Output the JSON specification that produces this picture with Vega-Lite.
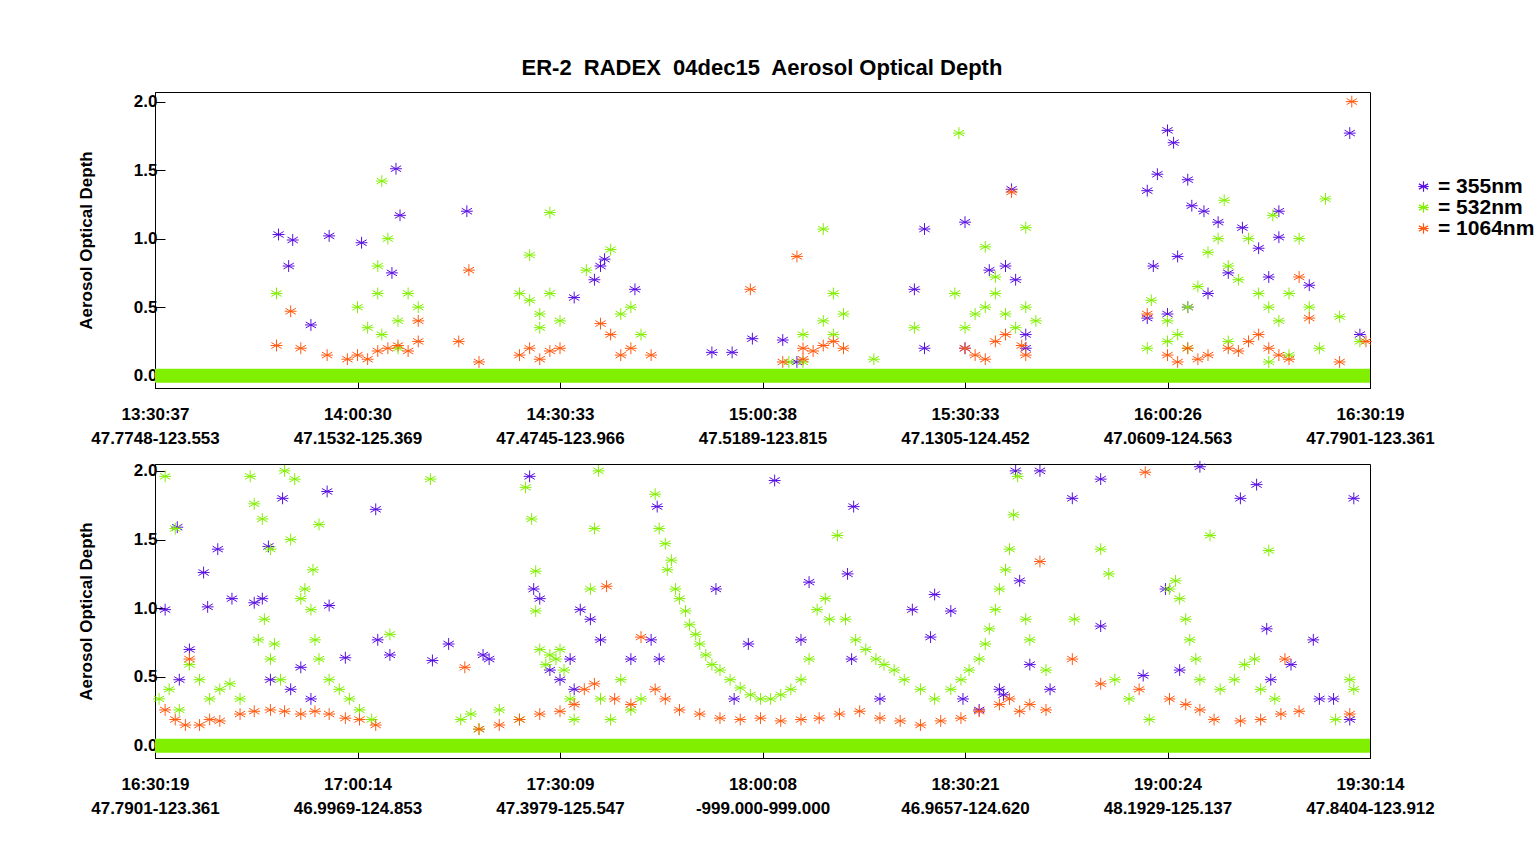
{
  "$schema": "https://vega.github.io/schema/vega-lite/v6.json",
  "autosize": {"type": "pad"},
  "padding": {"left": 76, "top": 56, "right": 0, "bottom": 0},
  "background": "white",
  "title": {"text": "ER-2\u00a0 RADEX\u00a0 04dec15\u00a0 Aerosol Optical Depth", "anchor": "middle", "dx": -44, "fontSize": 22, "font": "Liberation Sans", "fontWeight": "bold", "offset": 12, "color": "black"},
  "config": {
    "view": {"stroke": "black", "strokeWidth": 1},
    "axis": {"labelFont": "Liberation Sans", "labelFontWeight": "bold", "labelFontSize": 17, "labelColor": "black", "domainColor": "black", "tickColor": "black", "grid": false, "titleFont": "Liberation Sans", "titleFontWeight": "bold", "titleFontSize": 17, "titleColor": "black"},
    "concat": {"spacing": 76},
    "legend": {"orient": "none", "legendX": 1258, "legendY": 84, "labelFont": "Liberation Sans", "labelFontWeight": "bold", "labelFontSize": 21, "labelColor": "black", "rowPadding": -4, "symbolSize": 110, "symbolStrokeWidth": 1.2, "title": null}
  },
  "bounds": "flush",
  "datasets": {
    "pts": [
      {"p":1,"s":"355nm","x":0.61,"y":1.03},{"p":1,"s":"355nm","x":0.66,"y":0.8},{"p":1,"s":"355nm","x":0.68,"y":0.99},{"p":1,"s":"355nm","x":0.77,"y":0.37},{"p":1,"s":"355nm","x":0.86,"y":1.02},{"p":1,"s":"355nm","x":1.02,"y":0.97},{"p":1,"s":"355nm","x":1.19,"y":1.51},{"p":1,"s":"355nm","x":1.21,"y":1.17},{"p":1,"s":"355nm","x":1.17,"y":0.75},{"p":1,"s":"355nm","x":1.54,"y":1.2},{"p":1,"s":"355nm","x":2.07,"y":0.57},{"p":1,"s":"355nm","x":2.17,"y":0.7},{"p":1,"s":"355nm","x":2.22,"y":0.85},{"p":1,"s":"355nm","x":2.2,"y":0.8},{"p":1,"s":"355nm","x":2.37,"y":0.63},{"p":1,"s":"355nm","x":2.75,"y":0.17},{"p":1,"s":"355nm","x":2.85,"y":0.17},{"p":1,"s":"355nm","x":2.95,"y":0.27},{"p":1,"s":"355nm","x":3.1,"y":0.26},{"p":1,"s":"355nm","x":3.17,"y":0.1},{"p":1,"s":"355nm","x":3.8,"y":1.07},{"p":1,"s":"355nm","x":3.75,"y":0.63},{"p":1,"s":"355nm","x":3.8,"y":0.2},{"p":1,"s":"355nm","x":4.0,"y":0.2},{"p":1,"s":"355nm","x":4.3,"y":0.2},{"p":1,"s":"355nm","x":4.0,"y":1.12},{"p":1,"s":"355nm","x":4.23,"y":1.36},{"p":1,"s":"355nm","x":4.2,"y":0.8},{"p":1,"s":"355nm","x":4.12,"y":0.77},{"p":1,"s":"355nm","x":4.25,"y":0.7},{"p":1,"s":"355nm","x":4.3,"y":0.3},{"p":1,"s":"355nm","x":4.9,"y":1.35},{"p":1,"s":"355nm","x":4.95,"y":1.47},{"p":1,"s":"355nm","x":5.0,"y":1.79},{"p":1,"s":"355nm","x":5.03,"y":1.7},{"p":1,"s":"355nm","x":5.1,"y":1.43},{"p":1,"s":"355nm","x":5.12,"y":1.24},{"p":1,"s":"355nm","x":5.18,"y":1.2},{"p":1,"s":"355nm","x":5.25,"y":1.12},{"p":1,"s":"355nm","x":5.05,"y":0.87},{"p":1,"s":"355nm","x":4.93,"y":0.8},{"p":1,"s":"355nm","x":5.3,"y":0.75},{"p":1,"s":"355nm","x":5.37,"y":1.08},{"p":1,"s":"355nm","x":5.45,"y":0.93},{"p":1,"s":"355nm","x":5.5,"y":0.72},{"p":1,"s":"355nm","x":5.55,"y":1.2},{"p":1,"s":"355nm","x":5.55,"y":1.01},{"p":1,"s":"355nm","x":5.7,"y":0.66},{"p":1,"s":"355nm","x":5.9,"y":1.77},{"p":1,"s":"355nm","x":5.95,"y":0.3},{"p":1,"s":"355nm","x":4.9,"y":0.42},{"p":1,"s":"355nm","x":5.0,"y":0.45},{"p":1,"s":"355nm","x":5.1,"y":0.5},{"p":1,"s":"355nm","x":5.2,"y":0.6},
      {"p":1,"s":"532nm","x":0.6,"y":0.6},{"p":1,"s":"532nm","x":1.12,"y":1.42},{"p":1,"s":"532nm","x":1.15,"y":1.0},{"p":1,"s":"532nm","x":1.1,"y":0.8},{"p":1,"s":"532nm","x":1.0,"y":0.5},{"p":1,"s":"532nm","x":1.05,"y":0.35},{"p":1,"s":"532nm","x":1.1,"y":0.6},{"p":1,"s":"532nm","x":1.2,"y":0.4},{"p":1,"s":"532nm","x":1.25,"y":0.6},{"p":1,"s":"532nm","x":1.3,"y":0.5},{"p":1,"s":"532nm","x":1.12,"y":0.3},{"p":1,"s":"532nm","x":1.2,"y":0.2},{"p":1,"s":"532nm","x":1.85,"y":0.88},{"p":1,"s":"532nm","x":1.85,"y":0.55},{"p":1,"s":"532nm","x":1.9,"y":0.45},{"p":1,"s":"532nm","x":1.95,"y":0.6},{"p":1,"s":"532nm","x":1.8,"y":0.6},{"p":1,"s":"532nm","x":1.9,"y":0.35},{"p":1,"s":"532nm","x":1.95,"y":1.19},{"p":1,"s":"532nm","x":2.0,"y":0.4},{"p":1,"s":"532nm","x":2.13,"y":0.77},{"p":1,"s":"532nm","x":2.25,"y":0.92},{"p":1,"s":"532nm","x":2.3,"y":0.45},{"p":1,"s":"532nm","x":2.35,"y":0.5},{"p":1,"s":"532nm","x":2.4,"y":0.3},{"p":1,"s":"532nm","x":3.2,"y":0.1},{"p":1,"s":"532nm","x":3.13,"y":0.1},{"p":1,"s":"532nm","x":3.2,"y":0.3},{"p":1,"s":"532nm","x":3.3,"y":1.07},{"p":1,"s":"532nm","x":3.35,"y":0.6},{"p":1,"s":"532nm","x":3.4,"y":0.45},{"p":1,"s":"532nm","x":3.3,"y":0.4},{"p":1,"s":"532nm","x":3.35,"y":0.3},{"p":1,"s":"532nm","x":3.55,"y":0.12},{"p":1,"s":"532nm","x":3.75,"y":0.35},{"p":1,"s":"532nm","x":3.97,"y":1.77},{"p":1,"s":"532nm","x":3.95,"y":0.6},{"p":1,"s":"532nm","x":4.0,"y":0.35},{"p":1,"s":"532nm","x":4.05,"y":0.45},{"p":1,"s":"532nm","x":4.1,"y":0.5},{"p":1,"s":"532nm","x":4.15,"y":0.6},{"p":1,"s":"532nm","x":4.2,"y":0.45},{"p":1,"s":"532nm","x":4.25,"y":0.35},{"p":1,"s":"532nm","x":4.3,"y":0.5},{"p":1,"s":"532nm","x":4.35,"y":0.4},{"p":1,"s":"532nm","x":4.3,"y":1.08},{"p":1,"s":"532nm","x":4.1,"y":0.94},{"p":1,"s":"532nm","x":4.15,"y":0.72},{"p":1,"s":"532nm","x":4.92,"y":0.55},{"p":1,"s":"532nm","x":5.0,"y":0.4},{"p":1,"s":"532nm","x":5.05,"y":0.3},{"p":1,"s":"532nm","x":5.1,"y":0.5},{"p":1,"s":"532nm","x":5.15,"y":0.65},{"p":1,"s":"532nm","x":5.2,"y":0.9},{"p":1,"s":"532nm","x":5.25,"y":1.0},{"p":1,"s":"532nm","x":5.28,"y":1.28},{"p":1,"s":"532nm","x":5.3,"y":0.8},{"p":1,"s":"532nm","x":5.35,"y":0.7},{"p":1,"s":"532nm","x":5.4,"y":1.0},{"p":1,"s":"532nm","x":5.45,"y":0.6},{"p":1,"s":"532nm","x":5.5,"y":0.5},{"p":1,"s":"532nm","x":5.52,"y":1.17},{"p":1,"s":"532nm","x":5.55,"y":0.4},{"p":1,"s":"532nm","x":5.6,"y":0.6},{"p":1,"s":"532nm","x":5.65,"y":1.0},{"p":1,"s":"532nm","x":5.7,"y":0.5},{"p":1,"s":"532nm","x":5.75,"y":0.2},{"p":1,"s":"532nm","x":5.78,"y":1.29},{"p":1,"s":"532nm","x":5.95,"y":0.25},{"p":1,"s":"532nm","x":5.85,"y":0.43},{"p":1,"s":"532nm","x":4.9,"y":0.2},{"p":1,"s":"532nm","x":5.0,"y":0.25},{"p":1,"s":"532nm","x":5.1,"y":0.2},{"p":1,"s":"532nm","x":5.3,"y":0.25},{"p":1,"s":"532nm","x":5.5,"y":0.1},{"p":1,"s":"532nm","x":5.6,"y":0.15},
      {"p":1,"s":"1064nm","x":0.6,"y":0.22},{"p":1,"s":"1064nm","x":0.67,"y":0.47},{"p":1,"s":"1064nm","x":0.72,"y":0.2},{"p":1,"s":"1064nm","x":0.85,"y":0.15},{"p":1,"s":"1064nm","x":0.95,"y":0.12},{"p":1,"s":"1064nm","x":1.0,"y":0.15},{"p":1,"s":"1064nm","x":1.05,"y":0.12},{"p":1,"s":"1064nm","x":1.1,"y":0.18},{"p":1,"s":"1064nm","x":1.15,"y":0.2},{"p":1,"s":"1064nm","x":1.2,"y":0.22},{"p":1,"s":"1064nm","x":1.25,"y":0.18},{"p":1,"s":"1064nm","x":1.3,"y":0.25},{"p":1,"s":"1064nm","x":1.3,"y":0.4},{"p":1,"s":"1064nm","x":1.5,"y":0.25},{"p":1,"s":"1064nm","x":1.55,"y":0.77},{"p":1,"s":"1064nm","x":1.6,"y":0.1},{"p":1,"s":"1064nm","x":1.8,"y":0.15},{"p":1,"s":"1064nm","x":1.85,"y":0.2},{"p":1,"s":"1064nm","x":1.9,"y":0.12},{"p":1,"s":"1064nm","x":1.95,"y":0.18},{"p":1,"s":"1064nm","x":2.0,"y":0.2},{"p":1,"s":"1064nm","x":2.2,"y":0.38},{"p":1,"s":"1064nm","x":2.25,"y":0.3},{"p":1,"s":"1064nm","x":2.3,"y":0.15},{"p":1,"s":"1064nm","x":2.35,"y":0.2},{"p":1,"s":"1064nm","x":2.45,"y":0.15},{"p":1,"s":"1064nm","x":2.94,"y":0.63},{"p":1,"s":"1064nm","x":3.1,"y":0.1},{"p":1,"s":"1064nm","x":3.2,"y":0.12},{"p":1,"s":"1064nm","x":3.17,"y":0.87},{"p":1,"s":"1064nm","x":3.2,"y":0.2},{"p":1,"s":"1064nm","x":3.25,"y":0.18},{"p":1,"s":"1064nm","x":3.3,"y":0.22},{"p":1,"s":"1064nm","x":3.35,"y":0.25},{"p":1,"s":"1064nm","x":3.4,"y":0.2},{"p":1,"s":"1064nm","x":4.0,"y":0.2},{"p":1,"s":"1064nm","x":4.05,"y":0.15},{"p":1,"s":"1064nm","x":4.1,"y":0.12},{"p":1,"s":"1064nm","x":4.15,"y":0.25},{"p":1,"s":"1064nm","x":4.2,"y":0.3},{"p":1,"s":"1064nm","x":4.23,"y":1.34},{"p":1,"s":"1064nm","x":4.28,"y":0.22},{"p":1,"s":"1064nm","x":4.3,"y":0.15},{"p":1,"s":"1064nm","x":4.9,"y":0.45},{"p":1,"s":"1064nm","x":5.0,"y":0.15},{"p":1,"s":"1064nm","x":5.05,"y":0.1},{"p":1,"s":"1064nm","x":5.1,"y":0.2},{"p":1,"s":"1064nm","x":5.15,"y":0.12},{"p":1,"s":"1064nm","x":5.2,"y":0.15},{"p":1,"s":"1064nm","x":5.3,"y":0.2},{"p":1,"s":"1064nm","x":5.35,"y":0.18},{"p":1,"s":"1064nm","x":5.4,"y":0.25},{"p":1,"s":"1064nm","x":5.45,"y":0.3},{"p":1,"s":"1064nm","x":5.5,"y":0.2},{"p":1,"s":"1064nm","x":5.55,"y":0.15},{"p":1,"s":"1064nm","x":5.6,"y":0.12},{"p":1,"s":"1064nm","x":5.65,"y":0.72},{"p":1,"s":"1064nm","x":5.7,"y":0.42},{"p":1,"s":"1064nm","x":5.85,"y":0.1},{"p":1,"s":"1064nm","x":5.91,"y":2.0},{"p":1,"s":"1064nm","x":5.98,"y":0.25},
      {"p":2,"s":"355nm","x":0.05,"y":0.99},{"p":2,"s":"355nm","x":0.11,"y":1.59},{"p":2,"s":"355nm","x":0.12,"y":0.48},{"p":2,"s":"355nm","x":0.17,"y":0.7},{"p":2,"s":"355nm","x":0.24,"y":1.26},{"p":2,"s":"355nm","x":0.26,"y":1.01},{"p":2,"s":"355nm","x":0.31,"y":1.43},{"p":2,"s":"355nm","x":0.38,"y":1.07},{"p":2,"s":"355nm","x":0.49,"y":1.04},{"p":2,"s":"355nm","x":0.53,"y":1.07},{"p":2,"s":"355nm","x":0.56,"y":1.45},{"p":2,"s":"355nm","x":0.63,"y":1.8},{"p":2,"s":"355nm","x":0.57,"y":0.48},{"p":2,"s":"355nm","x":0.67,"y":0.41},{"p":2,"s":"355nm","x":0.72,"y":0.57},{"p":2,"s":"355nm","x":0.77,"y":0.34},{"p":2,"s":"355nm","x":0.85,"y":1.85},{"p":2,"s":"355nm","x":0.86,"y":1.02},{"p":2,"s":"355nm","x":0.94,"y":0.64},{"p":2,"s":"355nm","x":1.09,"y":1.72},{"p":2,"s":"355nm","x":1.1,"y":0.77},{"p":2,"s":"355nm","x":1.16,"y":0.66},{"p":2,"s":"355nm","x":1.37,"y":0.62},{"p":2,"s":"355nm","x":1.45,"y":0.74},{"p":2,"s":"355nm","x":1.62,"y":0.66},{"p":2,"s":"355nm","x":1.65,"y":0.63},{"p":2,"s":"355nm","x":1.85,"y":1.96},{"p":2,"s":"355nm","x":1.87,"y":1.14},{"p":2,"s":"355nm","x":1.9,"y":1.07},{"p":2,"s":"355nm","x":1.95,"y":0.55},{"p":2,"s":"355nm","x":2.0,"y":0.48},{"p":2,"s":"355nm","x":2.1,"y":0.99},{"p":2,"s":"355nm","x":2.15,"y":0.92},{"p":2,"s":"355nm","x":2.05,"y":0.63},{"p":2,"s":"355nm","x":2.07,"y":0.41},{"p":2,"s":"355nm","x":2.2,"y":0.77},{"p":2,"s":"355nm","x":2.35,"y":0.63},{"p":2,"s":"355nm","x":2.45,"y":0.77},{"p":2,"s":"355nm","x":2.48,"y":1.74},{"p":2,"s":"355nm","x":2.49,"y":0.63},{"p":2,"s":"355nm","x":2.77,"y":1.14},{"p":2,"s":"355nm","x":2.86,"y":0.34},{"p":2,"s":"355nm","x":2.93,"y":0.74},{"p":2,"s":"355nm","x":3.06,"y":1.93},{"p":2,"s":"355nm","x":3.19,"y":0.77},{"p":2,"s":"355nm","x":3.23,"y":1.19},{"p":2,"s":"355nm","x":3.42,"y":1.25},{"p":2,"s":"355nm","x":3.45,"y":1.74},{"p":2,"s":"355nm","x":3.44,"y":0.63},{"p":2,"s":"355nm","x":3.58,"y":0.34},{"p":2,"s":"355nm","x":3.74,"y":0.99},{"p":2,"s":"355nm","x":3.83,"y":0.79},{"p":2,"s":"355nm","x":3.93,"y":0.98},{"p":2,"s":"355nm","x":3.85,"y":1.1},{"p":2,"s":"355nm","x":3.99,"y":0.34},{"p":2,"s":"355nm","x":4.07,"y":0.26},{"p":2,"s":"355nm","x":4.17,"y":0.41},{"p":2,"s":"355nm","x":4.19,"y":0.37},{"p":2,"s":"355nm","x":4.25,"y":2.0},{"p":2,"s":"355nm","x":4.27,"y":1.2},{"p":2,"s":"355nm","x":4.32,"y":0.59},{"p":2,"s":"355nm","x":4.37,"y":2.0},{"p":2,"s":"355nm","x":4.42,"y":0.41},{"p":2,"s":"355nm","x":4.53,"y":1.8},{"p":2,"s":"355nm","x":4.67,"y":0.87},{"p":2,"s":"355nm","x":4.67,"y":1.94},{"p":2,"s":"355nm","x":4.88,"y":0.51},{"p":2,"s":"355nm","x":4.99,"y":1.14},{"p":2,"s":"355nm","x":5.06,"y":0.55},{"p":2,"s":"355nm","x":5.16,"y":2.03},{"p":2,"s":"355nm","x":5.36,"y":1.8},{"p":2,"s":"355nm","x":5.44,"y":1.9},{"p":2,"s":"355nm","x":5.49,"y":0.85},{"p":2,"s":"355nm","x":5.51,"y":0.48},{"p":2,"s":"355nm","x":5.61,"y":0.59},{"p":2,"s":"355nm","x":5.72,"y":0.77},{"p":2,"s":"355nm","x":5.75,"y":0.34},{"p":2,"s":"355nm","x":5.82,"y":0.34},{"p":2,"s":"355nm","x":5.92,"y":1.8},{"p":2,"s":"355nm","x":5.9,"y":0.19},
      {"p":2,"s":"532nm","x":0.05,"y":1.96},{"p":2,"s":"532nm","x":0.1,"y":1.58},{"p":2,"s":"532nm","x":0.02,"y":0.34},{"p":2,"s":"532nm","x":0.07,"y":0.41},{"p":2,"s":"532nm","x":0.12,"y":0.26},{"p":2,"s":"532nm","x":0.17,"y":0.59},{"p":2,"s":"532nm","x":0.22,"y":0.48},{"p":2,"s":"532nm","x":0.27,"y":0.34},{"p":2,"s":"532nm","x":0.32,"y":0.41},{"p":2,"s":"532nm","x":0.37,"y":0.45},{"p":2,"s":"532nm","x":0.42,"y":0.34},{"p":2,"s":"532nm","x":0.47,"y":1.96},{"p":2,"s":"532nm","x":0.49,"y":1.76},{"p":2,"s":"532nm","x":0.53,"y":1.65},{"p":2,"s":"532nm","x":0.51,"y":0.77},{"p":2,"s":"532nm","x":0.54,"y":0.92},{"p":2,"s":"532nm","x":0.57,"y":0.63},{"p":2,"s":"532nm","x":0.59,"y":0.74},{"p":2,"s":"532nm","x":0.62,"y":0.48},{"p":2,"s":"532nm","x":0.57,"y":1.43},{"p":2,"s":"532nm","x":0.64,"y":2.0},{"p":2,"s":"532nm","x":0.67,"y":1.5},{"p":2,"s":"532nm","x":0.69,"y":1.94},{"p":2,"s":"532nm","x":0.72,"y":1.07},{"p":2,"s":"532nm","x":0.74,"y":1.14},{"p":2,"s":"532nm","x":0.77,"y":0.99},{"p":2,"s":"532nm","x":0.78,"y":1.28},{"p":2,"s":"532nm","x":0.79,"y":0.77},{"p":2,"s":"532nm","x":0.81,"y":1.61},{"p":2,"s":"532nm","x":0.81,"y":0.63},{"p":2,"s":"532nm","x":0.86,"y":0.48},{"p":2,"s":"532nm","x":0.91,"y":0.41},{"p":2,"s":"532nm","x":0.96,"y":0.34},{"p":2,"s":"532nm","x":1.01,"y":0.26},{"p":2,"s":"532nm","x":1.07,"y":0.19},{"p":2,"s":"532nm","x":1.16,"y":0.81},{"p":2,"s":"532nm","x":1.36,"y":1.94},{"p":2,"s":"532nm","x":1.51,"y":0.19},{"p":2,"s":"532nm","x":1.56,"y":0.23},{"p":2,"s":"532nm","x":1.6,"y":0.12},{"p":2,"s":"532nm","x":1.7,"y":0.26},{"p":2,"s":"532nm","x":1.8,"y":0.19},{"p":2,"s":"532nm","x":1.83,"y":1.88},{"p":2,"s":"532nm","x":1.86,"y":1.65},{"p":2,"s":"532nm","x":1.88,"y":1.27},{"p":2,"s":"532nm","x":1.88,"y":0.98},{"p":2,"s":"532nm","x":1.9,"y":0.7},{"p":2,"s":"532nm","x":1.93,"y":0.59},{"p":2,"s":"532nm","x":1.95,"y":0.66},{"p":2,"s":"532nm","x":1.98,"y":0.63},{"p":2,"s":"532nm","x":2.0,"y":0.7},{"p":2,"s":"532nm","x":2.02,"y":0.55},{"p":2,"s":"532nm","x":2.05,"y":0.34},{"p":2,"s":"532nm","x":2.07,"y":0.19},{"p":2,"s":"532nm","x":2.15,"y":1.14},{"p":2,"s":"532nm","x":2.17,"y":1.58},{"p":2,"s":"532nm","x":2.19,"y":2.0},{"p":2,"s":"532nm","x":2.2,"y":0.34},{"p":2,"s":"532nm","x":2.25,"y":0.19},{"p":2,"s":"532nm","x":2.3,"y":0.48},{"p":2,"s":"532nm","x":2.35,"y":0.26},{"p":2,"s":"532nm","x":2.4,"y":0.34},{"p":2,"s":"532nm","x":2.47,"y":1.83},{"p":2,"s":"532nm","x":2.49,"y":1.58},{"p":2,"s":"532nm","x":2.52,"y":1.47},{"p":2,"s":"532nm","x":2.53,"y":1.28},{"p":2,"s":"532nm","x":2.55,"y":1.35},{"p":2,"s":"532nm","x":2.57,"y":1.14},{"p":2,"s":"532nm","x":2.59,"y":1.07},{"p":2,"s":"532nm","x":2.62,"y":0.98},{"p":2,"s":"532nm","x":2.64,"y":0.88},{"p":2,"s":"532nm","x":2.67,"y":0.81},{"p":2,"s":"532nm","x":2.69,"y":0.74},{"p":2,"s":"532nm","x":2.72,"y":0.66},{"p":2,"s":"532nm","x":2.75,"y":0.59},{"p":2,"s":"532nm","x":2.79,"y":0.55},{"p":2,"s":"532nm","x":2.84,"y":0.48},{"p":2,"s":"532nm","x":2.89,"y":0.42},{"p":2,"s":"532nm","x":2.94,"y":0.37},{"p":2,"s":"532nm","x":2.99,"y":0.34},{"p":2,"s":"532nm","x":3.04,"y":0.34},{"p":2,"s":"532nm","x":3.09,"y":0.37},{"p":2,"s":"532nm","x":3.14,"y":0.41},{"p":2,"s":"532nm","x":3.19,"y":0.48},{"p":2,"s":"532nm","x":3.23,"y":0.63},{"p":2,"s":"532nm","x":3.27,"y":0.99},{"p":2,"s":"532nm","x":3.31,"y":1.07},{"p":2,"s":"532nm","x":3.33,"y":0.92},{"p":2,"s":"532nm","x":3.37,"y":1.53},{"p":2,"s":"532nm","x":3.41,"y":0.92},{"p":2,"s":"532nm","x":3.46,"y":0.77},{"p":2,"s":"532nm","x":3.51,"y":0.7},{"p":2,"s":"532nm","x":3.56,"y":0.63},{"p":2,"s":"532nm","x":3.6,"y":0.59},{"p":2,"s":"532nm","x":3.65,"y":0.55},{"p":2,"s":"532nm","x":3.7,"y":0.48},{"p":2,"s":"532nm","x":3.78,"y":0.41},{"p":2,"s":"532nm","x":3.85,"y":0.34},{"p":2,"s":"532nm","x":3.93,"y":0.41},{"p":2,"s":"532nm","x":3.98,"y":0.48},{"p":2,"s":"532nm","x":4.02,"y":0.55},{"p":2,"s":"532nm","x":4.07,"y":0.63},{"p":2,"s":"532nm","x":4.1,"y":0.74},{"p":2,"s":"532nm","x":4.12,"y":0.85},{"p":2,"s":"532nm","x":4.15,"y":0.99},{"p":2,"s":"532nm","x":4.17,"y":1.14},{"p":2,"s":"532nm","x":4.2,"y":1.28},{"p":2,"s":"532nm","x":4.22,"y":1.43},{"p":2,"s":"532nm","x":4.24,"y":1.68},{"p":2,"s":"532nm","x":4.26,"y":1.96},{"p":2,"s":"532nm","x":4.3,"y":0.92},{"p":2,"s":"532nm","x":4.32,"y":0.77},{"p":2,"s":"532nm","x":4.4,"y":0.55},{"p":2,"s":"532nm","x":4.54,"y":0.92},{"p":2,"s":"532nm","x":4.67,"y":1.43},{"p":2,"s":"532nm","x":4.71,"y":1.25},{"p":2,"s":"532nm","x":4.74,"y":0.48},{"p":2,"s":"532nm","x":4.81,"y":0.34},{"p":2,"s":"532nm","x":4.91,"y":0.19},{"p":2,"s":"532nm","x":5.01,"y":1.14},{"p":2,"s":"532nm","x":5.04,"y":1.2},{"p":2,"s":"532nm","x":5.06,"y":1.07},{"p":2,"s":"532nm","x":5.09,"y":0.92},{"p":2,"s":"532nm","x":5.11,"y":0.77},{"p":2,"s":"532nm","x":5.14,"y":0.63},{"p":2,"s":"532nm","x":5.16,"y":0.48},{"p":2,"s":"532nm","x":5.21,"y":1.53},{"p":2,"s":"532nm","x":5.26,"y":0.41},{"p":2,"s":"532nm","x":5.33,"y":0.48},{"p":2,"s":"532nm","x":5.38,"y":0.59},{"p":2,"s":"532nm","x":5.43,"y":0.63},{"p":2,"s":"532nm","x":5.46,"y":0.41},{"p":2,"s":"532nm","x":5.5,"y":1.42},{"p":2,"s":"532nm","x":5.53,"y":0.34},{"p":2,"s":"532nm","x":5.83,"y":0.19},{"p":2,"s":"532nm","x":5.9,"y":0.48},{"p":2,"s":"532nm","x":5.92,"y":0.41},
      {"p":2,"s":"1064nm","x":0.05,"y":0.26},{"p":2,"s":"1064nm","x":0.1,"y":0.19},{"p":2,"s":"1064nm","x":0.15,"y":0.15},{"p":2,"s":"1064nm","x":0.17,"y":0.63},{"p":2,"s":"1064nm","x":0.22,"y":0.15},{"p":2,"s":"1064nm","x":0.27,"y":0.19},{"p":2,"s":"1064nm","x":0.32,"y":0.18},{"p":2,"s":"1064nm","x":0.42,"y":0.23},{"p":2,"s":"1064nm","x":0.49,"y":0.25},{"p":2,"s":"1064nm","x":0.57,"y":0.26},{"p":2,"s":"1064nm","x":0.64,"y":0.25},{"p":2,"s":"1064nm","x":0.72,"y":0.23},{"p":2,"s":"1064nm","x":0.79,"y":0.25},{"p":2,"s":"1064nm","x":0.86,"y":0.23},{"p":2,"s":"1064nm","x":0.94,"y":0.2},{"p":2,"s":"1064nm","x":1.01,"y":0.19},{"p":2,"s":"1064nm","x":1.09,"y":0.15},{"p":2,"s":"1064nm","x":1.53,"y":0.57},{"p":2,"s":"1064nm","x":1.6,"y":0.12},{"p":2,"s":"1064nm","x":1.7,"y":0.15},{"p":2,"s":"1064nm","x":1.8,"y":0.19},{"p":2,"s":"1064nm","x":1.9,"y":0.23},{"p":2,"s":"1064nm","x":2.0,"y":0.25},{"p":2,"s":"1064nm","x":2.07,"y":0.3},{"p":2,"s":"1064nm","x":2.12,"y":0.41},{"p":2,"s":"1064nm","x":2.17,"y":0.45},{"p":2,"s":"1064nm","x":2.23,"y":1.16},{"p":2,"s":"1064nm","x":2.27,"y":0.34},{"p":2,"s":"1064nm","x":2.35,"y":0.3},{"p":2,"s":"1064nm","x":2.4,"y":0.79},{"p":2,"s":"1064nm","x":2.47,"y":0.41},{"p":2,"s":"1064nm","x":2.52,"y":0.34},{"p":2,"s":"1064nm","x":2.59,"y":0.26},{"p":2,"s":"1064nm","x":2.69,"y":0.23},{"p":2,"s":"1064nm","x":2.79,"y":0.2},{"p":2,"s":"1064nm","x":2.89,"y":0.19},{"p":2,"s":"1064nm","x":2.99,"y":0.2},{"p":2,"s":"1064nm","x":3.09,"y":0.18},{"p":2,"s":"1064nm","x":3.19,"y":0.19},{"p":2,"s":"1064nm","x":3.28,"y":0.2},{"p":2,"s":"1064nm","x":3.38,"y":0.23},{"p":2,"s":"1064nm","x":3.48,"y":0.25},{"p":2,"s":"1064nm","x":3.58,"y":0.2},{"p":2,"s":"1064nm","x":3.68,"y":0.18},{"p":2,"s":"1064nm","x":3.78,"y":0.15},{"p":2,"s":"1064nm","x":3.88,"y":0.18},{"p":2,"s":"1064nm","x":3.98,"y":0.2},{"p":2,"s":"1064nm","x":4.07,"y":0.25},{"p":2,"s":"1064nm","x":4.17,"y":0.3},{"p":2,"s":"1064nm","x":4.22,"y":0.34},{"p":2,"s":"1064nm","x":4.27,"y":0.25},{"p":2,"s":"1064nm","x":4.32,"y":0.3},{"p":2,"s":"1064nm","x":4.37,"y":1.34},{"p":2,"s":"1064nm","x":4.4,"y":0.26},{"p":2,"s":"1064nm","x":4.53,"y":0.63},{"p":2,"s":"1064nm","x":4.67,"y":0.45},{"p":2,"s":"1064nm","x":4.86,"y":0.41},{"p":2,"s":"1064nm","x":4.89,"y":1.99},{"p":2,"s":"1064nm","x":5.01,"y":0.34},{"p":2,"s":"1064nm","x":5.09,"y":0.3},{"p":2,"s":"1064nm","x":5.16,"y":0.26},{"p":2,"s":"1064nm","x":5.23,"y":0.19},{"p":2,"s":"1064nm","x":5.36,"y":0.18},{"p":2,"s":"1064nm","x":5.46,"y":0.19},{"p":2,"s":"1064nm","x":5.56,"y":0.23},{"p":2,"s":"1064nm","x":5.58,"y":0.63},{"p":2,"s":"1064nm","x":5.65,"y":0.25},{"p":2,"s":"1064nm","x":5.9,"y":0.23}
    ],
    "base": [
      {"p":1,"x":0,"x2":6},
      {"p":2,"x":0,"x2":6}
    ]
  },
  "vconcat": [
    {
      "width": 1215,
      "height": 296,
      "layer": [
        {
          "data": {"name": "pts"},
          "transform": [{"filter": "datum.p == 1"}],
          "mark": {"type": "point", "shape": "M0,-1L0,1M-0.87,-0.5L0.87,0.5M-0.87,0.5L0.87,-0.5M-1,0L1,0", "filled": false, "strokeWidth": 1, "size": 140, "opacity": 1},
          "encoding": {
            "x": {"field": "x", "type": "quantitative", "scale": {"domain": [0, 6], "nice": false, "zero": false}, "title": null,
              "axis": {"values": [0,1,2,3,4,5,6], "tickSize": -10, "labelPadding": 28, "labelLineHeight": 24, "labelFlush": false,
                "labelExpr": "[['13:30:37','14:00:30','14:30:33','15:00:38','15:30:33','16:00:26','16:30:19'][datum.value], ['47.7748-123.553','47.1532-125.369','47.4745-123.966','47.5189-123.815','47.1305-124.452','47.0609-124.563','47.7901-123.361'][datum.value]]"}},
            "y": {"field": "y", "type": "quantitative", "scale": {"domain": [-0.09, 2.07], "nice": false, "zero": false}, "title": "Aerosol Optical Depth",
              "axis": {"values": [0, 0.5, 1, 1.5, 2], "format": ".1f", "tickSize": -10, "labelPadding": 8, "titlePadding": 38}},
            "color": {"field": "s", "type": "nominal", "scale": {"domain": ["355nm", "532nm", "1064nm"], "range": ["#5a10e0", "#80f000", "#ff5a10"]},
              "legend": {"labelExpr": "'= ' + datum.label", "symbolType": "M0,-1L0,1M-0.87,-0.5L0.87,0.5M-0.87,0.5L0.87,-0.5M-1,0L1,0"}}
          }
        },
        {
          "data": {"name": "base"},
          "transform": [{"filter": "datum.p == 1"}],
          "mark": {"type": "rule", "color": "#80f000", "strokeWidth": 14},
          "encoding": {"x": {"field": "x", "type": "quantitative"}, "x2": {"field": "x2"}, "y": {"datum": 0}}
        }
      ]
    },
    {
      "width": 1215,
      "height": 294,
      "layer": [
        {
          "data": {"name": "pts"},
          "transform": [{"filter": "datum.p == 2"}],
          "mark": {"type": "point", "shape": "M0,-1L0,1M-0.87,-0.5L0.87,0.5M-0.87,0.5L0.87,-0.5M-1,0L1,0", "filled": false, "strokeWidth": 1, "size": 140, "opacity": 1},
          "encoding": {
            "x": {"field": "x", "type": "quantitative", "scale": {"domain": [0, 6], "nice": false, "zero": false}, "title": null,
              "axis": {"values": [0,1,2,3,4,5,6], "tickSize": -10, "labelPadding": 28, "labelLineHeight": 24, "labelFlush": false,
                "labelExpr": "[['16:30:19','17:00:14','17:30:09','18:00:08','18:30:21','19:00:24','19:30:14'][datum.value], ['47.7901-123.361','46.9969-124.853','47.3979-125.547','-999.000-999.000','46.9657-124.620','48.1929-125.137','47.8404-123.912'][datum.value]]"}},
            "y": {"field": "y", "type": "quantitative", "scale": {"domain": [-0.09, 2.05], "nice": false, "zero": false}, "title": "Aerosol Optical Depth",
              "axis": {"values": [0, 0.5, 1, 1.5, 2], "format": ".1f", "tickSize": -10, "labelPadding": 8, "titlePadding": 38}},
            "color": {"field": "s", "type": "nominal"}
          }
        },
        {
          "data": {"name": "base"},
          "transform": [{"filter": "datum.p == 2"}],
          "mark": {"type": "rule", "color": "#80f000", "strokeWidth": 14},
          "encoding": {"x": {"field": "x", "type": "quantitative"}, "x2": {"field": "x2"}, "y": {"datum": 0}}
        }
      ]
    }
  ],
  "resolve": {"scale": {"x": "independent", "y": "independent"}}
}
